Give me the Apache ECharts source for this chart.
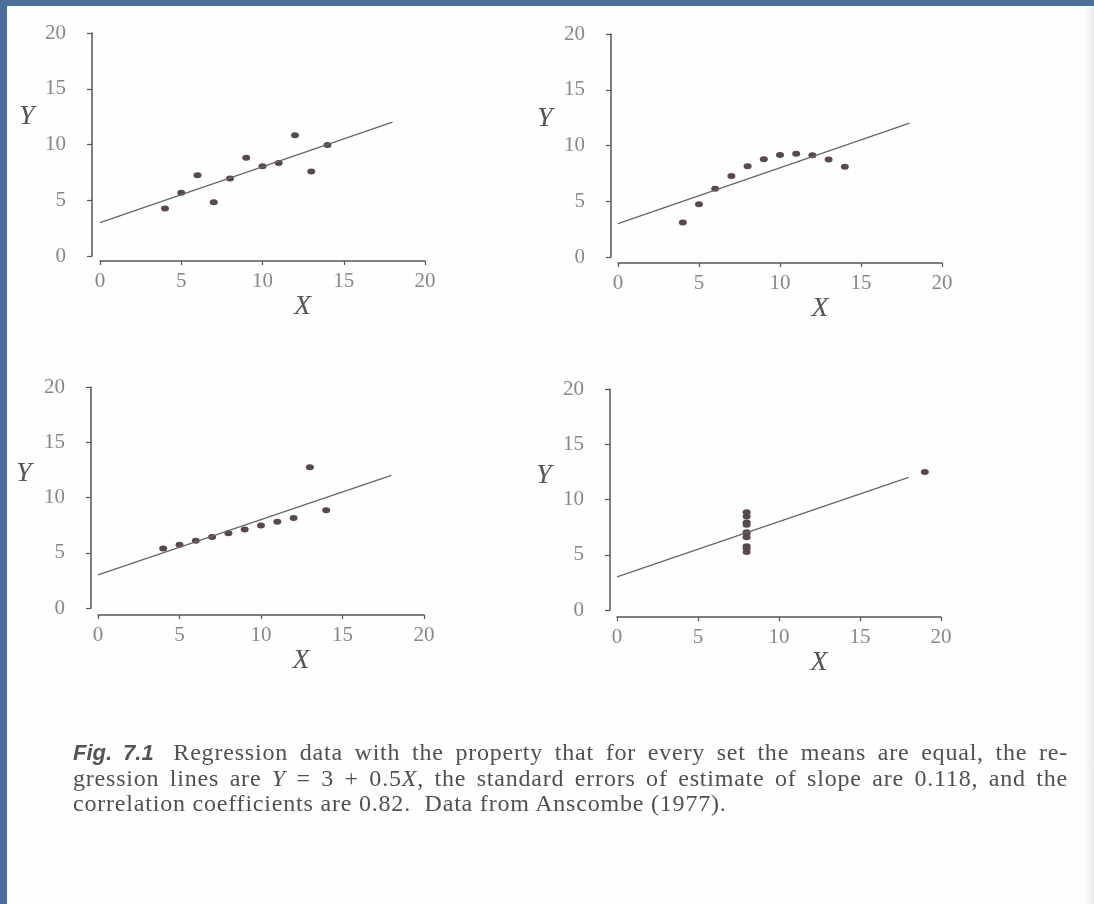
<!DOCTYPE html>
<html>
<head>
<meta charset="utf-8">
<script src="https://cdn.jsdelivr.net/npm/echarts@6/dist/echarts.min.js"></script>
<style>
  html, body { margin:0; padding:0; width:1094px; height:904px; overflow:hidden; background:#4b6f98; }
  #page { position:absolute; left:7px; top:6px; right:0; bottom:0; background:#fefefe; }
  #edge { position:absolute; left:1084px; top:6px; width:10px; bottom:0;
          background:linear-gradient(to right, #fefefe, #ececec); }
  #chart { position:absolute; left:0; top:0; width:1094px; height:904px; }
  .cap { position:absolute; left:73px; width:995px; font-family:"Liberation Serif", serif;
         font-size:24px; letter-spacing:0.8px; line-height:26px; color:#505050; white-space:nowrap; }
  .just { text-align:justify; text-align-last:justify; }
  .fig { font-family:"Liberation Sans", sans-serif; font-weight:bold; font-style:italic; color:#555;
         font-size:22px; letter-spacing:0; margin-right:8px; }
  .it { font-style:italic; }
</style>
</head>
<body>
<div id="page"></div>
<div id="edge"></div>
<div id="chart"></div>
<div class="cap just" style="top:739px"><span class="fig">Fig. 7.1</span> Regression data with the property that for every set the means are equal, the re-</div>
<div class="cap just" style="top:765px">gression lines are <span class="it">Y</span> = 3 + 0.5<span class="it">X</span>, the standard errors of estimate of slope are 0.118, and the</div>
<div class="cap" style="top:790px">correlation coefficients are 0.82.&nbsp; Data from Anscombe (1977).</div>
<script>
// Anscombe's quartet
const xs123 = [10, 8, 13, 9, 11, 14, 6, 4, 12, 7, 5];
const ys1 = [8.04, 6.95, 7.58, 8.81, 8.33, 9.96, 7.24, 4.26, 10.84, 4.82, 5.68];
const ys2 = [9.14, 8.14, 8.74, 8.77, 9.26, 8.10, 6.13, 3.10, 9.13, 7.26, 4.74];
const ys3 = [7.46, 6.77, 12.74, 7.11, 7.81, 8.84, 6.08, 5.39, 8.15, 6.42, 5.73];
const xs4 = [8, 8, 8, 8, 8, 8, 8, 19, 8, 8, 8];
const ys4 = [6.58, 5.76, 7.71, 8.84, 8.47, 7.04, 5.25, 12.50, 5.56, 7.91, 6.89];
// regression line Y = 3 + 0.5X, drawn from X = 0 to X = 18
const lineX = [0, 18];
const lineY = [3, 12];
const axisTicks = [0, 5, 10, 15, 20];
const axisNames = ['X', 'Y'];

const panels = [
  { xs: xs123, ys: ys1 },
  { xs: xs123, ys: ys2 },
  { xs: xs123, ys: ys3 },
  { xs: xs4,   ys: ys4 }
];

const grids = [
  { left: 100, top: 33,  width: 325, height: 223, yOff: 8, xOff: 5, yName: [28, 118] },
  { left: 618, top: 34,  width: 324, height: 223, yOff: 7, xOff: 6, yName: [546, 120] },
  { left: 98,  top: 387, width: 326, height: 221, yOff: 7, xOff: 7, yName: [25, 475] },
  { left: 617, top: 389, width: 324, height: 221, yOff: 7, xOff: 7, yName: [545, 477] }
];

const serif = '"Liberation Serif", "DejaVu Serif", serif';
const axisCol = '#555';
const lblCol = '#878787';

const option = {
  animation: false,
  backgroundColor: 'transparent',
  grid: grids.map(g => ({ left: g.left, top: g.top, width: g.width, height: g.height, containLabel: false })),
  xAxis: grids.map((g, i) => ({
    type: 'value', gridIndex: i, min: axisTicks[0], max: axisTicks[axisTicks.length - 1], interval: 5,
    offset: g.xOff,
    axisLine: { show: true, onZero: false, lineStyle: { color: axisCol, width: 1.5 } },
    axisTick: { show: true, length: 4, lineStyle: { color: axisCol, width: 1.2 } },
    axisLabel: { margin: 10, fontFamily: serif, fontSize: 21, color: lblCol },
    splitLine: { show: false },
    name: axisNames[0], nameLocation: 'middle', nameGap: 28,
    nameTextStyle: { fontFamily: serif, fontStyle: 'italic', fontSize: 28, color: '#555', padding: [0, 0, 0, 80] }
  })),
  yAxis: grids.map((g, i) => ({
    type: 'value', gridIndex: i, min: axisTicks[0], max: axisTicks[axisTicks.length - 1], interval: 5,
    offset: g.yOff,
    axisLine: { show: true, onZero: false, lineStyle: { color: axisCol, width: 1.5 } },
    axisTick: { show: true, length: 5, lineStyle: { color: axisCol, width: 1.2 } },
    axisLabel: { margin: 26, fontFamily: serif, fontSize: 21, color: lblCol },
    splitLine: { show: false }
  })),
  graphic: grids.map(g => ({
    type: 'text', left: g.yName[0] - 9, top: g.yName[1] - 15, silent: true,
    style: { text: axisNames[1], font: 'italic 28px ' + serif, fill: '#555' }
  })),
  series: []
};

panels.forEach((p, i) => {
  option.series.push({
    type: 'line', xAxisIndex: i, yAxisIndex: i, symbol: 'none', silent: true,
    lineStyle: { color: '#666', width: 1.3 },
    data: lineX.map((x, k) => [x, lineY[k]])
  });
  option.series.push({
    type: 'scatter', xAxisIndex: i, yAxisIndex: i, symbol: 'circle', symbolSize: [8, 6],
    itemStyle: { color: '#554a50', opacity: 1 },
    data: p.xs.map((x, k) => [x, p.ys[k]])
  });
});

const chart = echarts.init(document.getElementById('chart'), null, { renderer: 'canvas' });
chart.setOption(option);
</script>
</body>
</html>
